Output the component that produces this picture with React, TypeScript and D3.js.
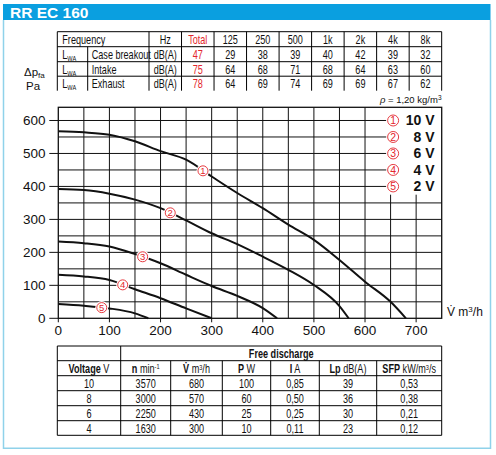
import React from 'react';
import * as d3 from 'd3';

const W = 496;
const H = 455;

// sound power levels
const freqLabels = ['125', '250', '500', '1k', '2k', '4k', '8k'];
const soundRowNames = ['Case breakout', 'Intake', 'Exhaust'];
const soundTotals = [47, 75, 78];
const caseBreakout = [29, 38, 39, 40, 42, 39, 32];
const intake = [64, 68, 71, 68, 64, 63, 60];
const exhaust = [64, 69, 74, 69, 69, 67, 62];

// fan curves, [flow m3/h, pressure Pa]
const curve10V: [number, number][] = [
  [0, 567], [50, 564], [100, 557], [150, 537], [200, 507], [250, 481], [300, 430],
  [350, 380], [400, 334], [450, 284], [500, 238], [550, 177], [600, 111], [650, 50], [680, 0],
];
const curve8V: [number, number][] = [
  [0, 392], [50, 389], [100, 378], [150, 360], [200, 334], [250, 297], [300, 258],
  [350, 225], [400, 187], [450, 147], [500, 101], [550, 37], [568, 0],
];
const curve6V: [number, number][] = [
  [0, 233], [50, 228], [100, 218], [150, 195], [200, 167], [250, 132], [300, 98],
  [350, 68], [400, 31], [428, 0],
];
const curve4V: [number, number][] = [
  [0, 132], [50, 127], [100, 116], [150, 88], [200, 61], [250, 30], [300, 0],
];
const curve2V: [number, number][] = [[0, 43], [50, 38], [100, 30], [150, 15], [176, 0]];

const curves = [curve10V, curve8V, curve6V, curve4V, curve2V];
const voltageLabels = ['10 V', '8 V', '6 V', '4 V', '2 V'];
const markerFlow = [283, 219, 165, 126, 85];

const xTicks = [0, 100, 200, 300, 400, 500, 600, 700];
const yTicks = [0, 100, 200, 300, 400, 500, 600];

// free discharge table
const perfRows = [
  ['10', '3570', '680', '100', '0,85', '39', '0,53'],
  ['8', '3000', '570', '60', '0,50', '36', '0,38'],
  ['6', '2250', '430', '25', '0,25', '30', '0,21'],
  ['4', '1630', '300', '10', '0,11', '23', '0,12'],
];

const sans = '"Liberation Sans", Arial, Helvetica, sans-serif';
const red = '#e3262d';
const blue = '#0a9fe0';
const frameBlue = '#8fd2ea';
const squeeze = 0.7;

const x = d3.scaleLinear().domain([0, 750]).range([58.3, 441.7]);
const y = d3.scaleLinear().domain([0, 640]).range([318.3, 107.3]);

const line = d3
  .line<[number, number]>()
  .x((d) => x(d[0]))
  .y((d) => y(d[1]))
  .curve(d3.curveMonotoneX);

const pressureAt = (pts: [number, number][], q: number) => {
  for (let i = 1; i < pts.length; i++) {
    if (q <= pts[i][0]) {
      const [x0, y0] = pts[i - 1];
      const [x1, y1] = pts[i];
      return y0 + ((q - x0) / (x1 - x0)) * (y1 - y0);
    }
  }
  return 0;
};

// condensed table text (no narrow font installed, so scale it)
const NT: React.FC<{
  x: number;
  y: number;
  anchor?: 'start' | 'middle' | 'end';
  fill?: string;
  bold?: boolean;
  children: React.ReactNode;
}> = ({ x, y, anchor = 'start', fill = '#111', bold, children }) => (
  <text
    transform={`translate(${x},${y}) scale(${squeeze},1)`}
    textAnchor={anchor}
    fill={fill}
    fontWeight={bold ? 'bold' : 'normal'}
    fontFamily={sans}
    fontSize={13}
  >
    {children}
  </text>
);

const Marker: React.FC<{ cx: number; cy: number; n: number; r?: number }> = ({ cx, cy, n, r = 5 }) => (
  <g>
    <circle cx={cx} cy={cy} r={r + 1.5} fill="#fff" />
    <circle cx={cx} cy={cy} r={r} fill="#fff" stroke={red} strokeWidth={0.9} />
    <text x={cx} y={cy + r * 0.68} textAnchor="middle" fontSize={r * 1.9} fill={red} fontFamily={sans}>
      {n}
    </text>
  </g>
);

const SoundTable: React.FC = () => {
  const left = 57.3;
  const c1 = 87.7;
  const c2 = 149;
  const cw = 32.52;
  const rows = [31.7, 46.7, 61.7, 76.2, 90.7];
  const colX = d3.range(10).map((i) => c2 + i * cw);
  const mid = (i: number) => (rows[i] + rows[i + 1]) / 2 + 4.8;
  const values = [caseBreakout, intake, exhaust];
  return (
    <g>
      {[0, 1, 2, 3].map((i) => (
        <line key={i} x1={left} x2={colX[9]} y1={rows[i]} y2={rows[i]} stroke="#000" />
      ))}
      <line x1={left} x2={left} y1={rows[0]} y2={rows[4]} stroke="#000" />
      <line x1={c1} x2={c1} y1={rows[1]} y2={rows[4]} stroke="#000" />
      {colX.map((cx, i) => (
        <line key={i} x1={cx} x2={cx} y1={rows[0]} y2={rows[4]} stroke="#000" />
      ))}
      <NT x={left + 5} y={mid(0)}>Frequency</NT>
      <NT x={colX[0] + cw / 2} y={mid(0)} anchor="middle">Hz</NT>
      <NT x={colX[1] + cw / 2} y={mid(0)} anchor="middle" fill={red}>Total</NT>
      {freqLabels.map((f, i) => (
        <NT key={f} x={colX[i + 2] + cw / 2} y={mid(0)} anchor="middle">{f}</NT>
      ))}
      {soundRowNames.map((name, r) => (
        <g key={name}>
          <NT x={left + 5} y={mid(r + 1)}>
            L<tspan fontSize={8} dy={2}>WA</tspan>
          </NT>
          <NT x={c1 + 4} y={mid(r + 1)}>{name}</NT>
          <NT x={colX[0] + cw / 2} y={mid(r + 1)} anchor="middle">dB(A)</NT>
          <NT x={colX[1] + cw / 2} y={mid(r + 1)} anchor="middle" fill={red}>{soundTotals[r]}</NT>
          {values[r].map((v, i) => (
            <NT key={i} x={colX[i + 2] + cw / 2} y={mid(r + 1)} anchor="middle">{v}</NT>
          ))}
        </g>
      ))}
    </g>
  );
};

const PerfTable: React.FC = () => {
  const cols = [57.3, 120.7, 170.7, 222.3, 270.7, 319.3, 376.7, 441.7];
  const rows = [346, 360.7, 375.7, 390.7, 405.7, 420.7, 435.3];
  const cx = (i: number) => (cols[i] + cols[i + 1]) / 2;
  const cy = (i: number) => (rows[i] + rows[i + 1]) / 2 + 4.8;
  const headers: [string, React.ReactNode][] = [
    ['Voltage', ' V'],
    ['n', <> min<tspan fontSize={8} dy={-4}>-1</tspan></>],
    ['V\u0307', <> m<tspan fontSize={8} dy={-3}>3</tspan><tspan dy={3}>/h</tspan></>],
    ['P', ' W'],
    ['I', ' A'],
    ['Lp', ' dB(A)'],
    ['SFP', <> kW/m<tspan fontSize={8} dy={-3}>3</tspan><tspan dy={3}>/s</tspan></>],
  ];
  return (
    <g>
      {rows.map((ry, i) => (
        <line key={i} x1={cols[0]} x2={cols[7]} y1={ry} y2={ry} stroke="#000" />
      ))}
      {cols.map((c, i) => (
        <line key={i} x1={c} x2={c} y1={i <= 1 || i === 7 ? rows[0] : rows[1]} y2={rows[6]} stroke="#000" />
      ))}
      <NT x={(cols[1] + cols[7]) / 2} y={cy(0)} anchor="middle" bold>Free discharge</NT>
      {headers.map(([b, rest], i) => (
        <NT key={i} x={cx(i)} y={cy(1)} anchor="middle">
          <tspan fontWeight="bold">{b}</tspan>
          {rest}
        </NT>
      ))}
      {perfRows.map((row, r) =>
        row.map((v, i) => (
          <NT key={`${r}-${i}`} x={cx(i)} y={cy(r + 2)} anchor="middle">{v}</NT>
        ))
      )}
    </g>
  );
};

const App: React.FC = () => {
  const xGrid = d3.range(50, 750, 50);
  const yGrid = d3.range(50, 640, 50);
  const legendLeft = x(655) - 5.5;
  return (
    <svg width={W} height={H} style={{ position: 'absolute', left: 0, top: 0, background: '#fff' }}>
      {/* frame and title */}
      <rect x={3} y={4} width={487.5} height={16} fill={blue} />
      <text x={10} y={17.5} fill="#fff" fontFamily={sans} fontWeight="bold" fontSize={15.5}>RR EC 160</text>
      <path d="M3.5,20 V448.3 H490.5 V20" fill="none" stroke={frameBlue} strokeWidth={1.5} />

      <SoundTable />

      {/* axis title */}
      <text x={24} y={76} fontFamily={sans} fontSize={11.5} fill="#111">
        Δp<tspan fontSize={8} dy={2}>fa</tspan>
      </text>
      <text x={26} y={90} fontFamily={sans} fontSize={11.5} fill="#111">Pa</text>
      <text x={441.5} y={103} textAnchor="end" fontFamily={sans} fontSize={9.5} fill="#111">
        <tspan fontStyle="italic">ρ</tspan> = 1,20 kg/m<tspan fontSize={6.5} dy={-3}>3</tspan>
      </text>

      {/* grid */}
      <g stroke="#111" strokeWidth={1}>
        {xGrid.map((v) => (
          <line key={`xg${v}`} x1={x(v)} x2={x(v)} y1={y(0)} y2={y(640)} />
        ))}
        {yGrid.map((v) => (
          <line key={`yg${v}`} x1={x(0)} x2={x(750)} y1={y(v)} y2={y(v)} />
        ))}
        {yTicks.map((v) => (
          <line key={`yt${v}`} x1={x(0) - 9} x2={x(0)} y1={y(v)} y2={y(v)} />
        ))}
        {xTicks.map((v) => (
          <line key={`xt${v}`} x1={x(v)} x2={x(v)} y1={y(0)} y2={y(0) + 4} />
        ))}
      </g>

      {/* legend box */}
      <rect x={legendLeft} y={y(640)} width={x(750) - legendLeft} height={y(375) - y(640)} fill="#fff" />
      {voltageLabels.map((lab, i) => (
        <g key={lab}>
          <Marker cx={x(655)} cy={y(600 - i * 50)} n={i + 1} r={5.5} />
          <text
            x={x(736)}
            y={y(600 - i * 50) + 5}
            textAnchor="end"
            fontFamily={sans}
            fontWeight="bold"
            fontSize={14}
            fill="#111"
          >
            {lab}
          </text>
        </g>
      ))}

      {/* plot border */}
      <rect x={x(0)} y={y(640)} width={x(750) - x(0)} height={y(0) - y(640)} fill="none" stroke="#111" strokeWidth={1.3} />

      {/* curves */}
      {curves.map((c, i) => (
        <path key={i} d={line(c) ?? ''} fill="none" stroke="#111" strokeWidth={2} />
      ))}
      {curves.map((c, i) => (
        <Marker key={i} cx={x(markerFlow[i])} cy={y(pressureAt(c, markerFlow[i]))} n={i + 1} />
      ))}

      {/* axis labels */}
      <g fontFamily={sans} fontSize={13.5} fill="#111">
        {yTicks.map((v) => (
          <text key={`yl${v}`} x={45.5} y={y(v) + 5} textAnchor="end">{v}</text>
        ))}
        {xTicks.map((v) => (
          <text key={`xl${v}`} x={x(v)} y={335} textAnchor="middle">{v}</text>
        ))}
      </g>
      <text x={447} y={316} fontFamily={sans} fontSize={12} fill="#111">
        V{'\u0307'} m<tspan fontSize={8} dy={-4}>3</tspan><tspan dy={4}>/h</tspan>
      </text>

      <PerfTable />
    </svg>
  );
};

export default App;
